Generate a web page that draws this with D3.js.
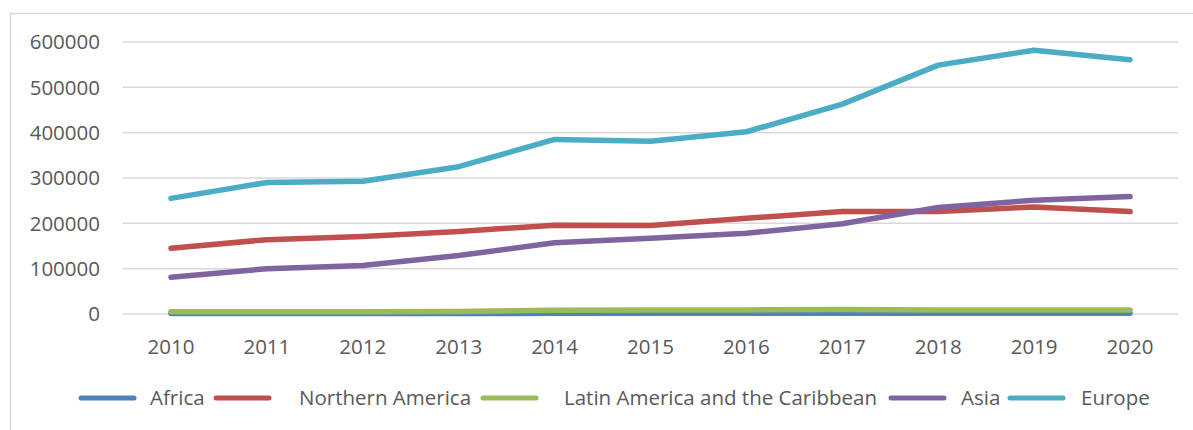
<!DOCTYPE html>
<html><head><meta charset="utf-8">
<script src="https://cdn.jsdelivr.net/npm/d3@7/dist/d3.min.js"></script>
<style>body{margin:0;background:#fff}svg{display:block}</style>
</head><body><svg id="c" width="1193" height="430"></svg>
<script>
const years = ["2010","2011","2012","2013","2014","2015","2016","2017","2018","2019","2020"];
const yTicks = [0,100000,200000,300000,400000,500000,600000];
const seriesNames = ["Africa","Northern America","Latin America and the Caribbean","Asia","Europe"];
const colors = ["#4F81BD","#C0504D","#9BBB59","#8064A2","#4BACC6"];
const africa = [1200,1200,1300,1300,1400,1500,1500,1600,1600,1600,1500];
const northernAmerica = [145000,164000,171000,182000,196000,195000,211000,226000,226000,236000,226000];
const latinAmerica = [5000,5000,5000,5500,8500,9000,9000,10000,9000,9000,9000];
const asia = [81000,100000,107000,129000,157000,167000,178000,199000,235000,251000,259000];
const europe = [255000,290000,293000,325000,385000,381000,402000,463000,549000,582000,561000];
const allSeries = [africa, northernAmerica, latinAmerica, asia, europe];

const svg = d3.select("#c");
const font = "'Open Sans', Lato, sans-serif";
const textColor = "#595959";
const fs = 20.5;

// frame
svg.append("rect").attr("x",10.5).attr("y",13.5).attr("width",1300).attr("height",500)
  .attr("fill","none").attr("stroke","#D9D9D9").attr("stroke-width",1.5);

const x = d3.scalePoint().domain(years).range([123,1178]).padding(0.5);
const y = d3.scaleLinear().domain([0,600000]).range([314,42]);

// gridlines
svg.append("g").selectAll("line").data(yTicks).join("line")
  .attr("x1",123).attr("x2",1178)
  .attr("y1",d=>y(d)).attr("y2",d=>y(d))
  .attr("stroke","#D9D9D9").attr("stroke-width",1.5);

// y labels
svg.append("g").selectAll("text").data(yTicks).join("text")
  .attr("x",100).attr("y",d=>y(d)).attr("dy","0.35em")
  .attr("text-anchor","end").attr("font-family",font).attr("font-size",fs)
  .attr("fill",textColor).text(d=>String(d));

// x labels
svg.append("g").selectAll("text").data(years).join("text")
  .attr("x",d=>x(d)).attr("y",347).attr("dy","0.35em")
  .attr("text-anchor","middle").attr("font-family",font).attr("font-size",fs)
  .attr("fill",textColor).text(d=>d);

// lines
const line = d3.line().x((d,i)=>x(years[i])).y(d=>y(d));
allSeries.forEach((s,k)=>{
  svg.append("path").datum(s).attr("d",line)
    .attr("fill","none").attr("stroke",colors[k]).attr("stroke-width",5.5)
    .attr("stroke-linecap","round").attr("stroke-linejoin","round");
});

// legend
const legendStarts = [79,214,481,889,1008];
const textGaps = [14,28,26,15,16];
const lg = svg.append("g");
seriesNames.forEach((n,k)=>{
  const x0 = legendStarts[k];
  lg.append("line").attr("x1",x0+2).attr("x2",x0+55).attr("y1",398).attr("y2",398)
    .attr("stroke",colors[k]).attr("stroke-width",5).attr("stroke-linecap","round");
  lg.append("text").attr("x",x0+57+textGaps[k]).attr("y",398).attr("dy","0.35em")
    .attr("font-family",font).attr("font-size",fs).attr("fill",textColor).text(n);
});
</script></body></html>
